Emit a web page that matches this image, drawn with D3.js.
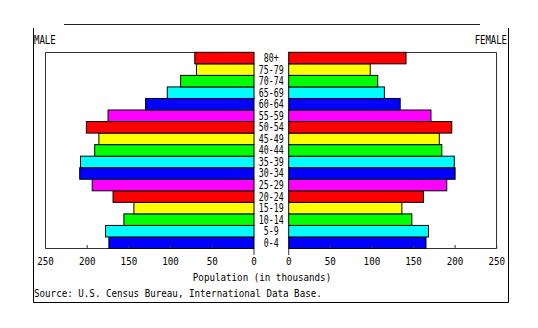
<!DOCTYPE html>
<html><head><meta charset="utf-8">
<script src="https://cdn.jsdelivr.net/npm/d3@7"></script>
<style>body{margin:0;background:#fff}svg{display:block}</style>
</head><body>
<script>
const ages = ["0-4","5-9","10-14","15-19","20-24","25-29","30-34","35-39","40-44","45-49","50-54","55-59","60-64","65-69","70-74","75-79","80+"];
const male = [174,178,156,144,169,194,209,208,191,186,201,175,130,104,88,69,71];
const female = [165,168,148,136,162,190,200,199,184,181,196,171,134,115,107,98,141];
const barColors = ["#0000ff","#00ffff","#00ff00","#ffff00","#ff0000","#ff00ff"];
const ticks = [0,50,100,150,200,250];

const W = 538, H = 328;
const svg = d3.select("body").append("svg").attr("width", W).attr("height", H);
const font = "'DejaVu Sans Mono', 'Liberation Mono', monospace";

function txt(sel, size, sx){
  return sel.attr("font-family",font).attr("font-size",size).attr("fill","#000")
    .attr("transform",function(){return `translate(${this.__x},${this.__y}) scale(${sx},1)`;});
}
function put(x, yy, s, size, sx, anchor){
  svg.append("text").attr("transform",`translate(${x},${yy}) scale(${sx},1)`)
    .attr("text-anchor",anchor||"start").attr("font-family",font).attr("font-size",size).text(s);
}

const xL = d3.scaleLinear().domain([0,250]).range([254,45.5]);
const xR = d3.scaleLinear().domain([0,250]).range([288.7,496.7]);
const y = d3.scaleBand().domain(ages).range([248.5,52.3]).padding(0);

// outer frame
svg.append("line").attr("x1",64).attr("x2",480).attr("y1",24.5).attr("y2",24.5).attr("stroke","#222");
svg.append("path").attr("d","M33.5,28V302.5H508.5V28").attr("fill","none").attr("stroke","#000");

// panel frames
svg.append("path").attr("d",`M254,52.5H45.5V248.5H254`).attr("fill","none").attr("stroke","#333");
svg.append("path").attr("d",`M288.7,52.5H496.5V248.5H288.7`).attr("fill","none").attr("stroke","#333");

// bars
svg.selectAll(".m").data(ages).join("rect")
  .attr("x",(d,i)=>xL(male[i])).attr("width",(d,i)=>xL(0)-xL(male[i]))
  .attr("y",d=>y(d)).attr("height",y.bandwidth())
  .attr("fill",(d,i)=>barColors[i%6]).attr("stroke","#000").attr("stroke-width",1);
svg.selectAll(".f").data(ages).join("rect")
  .attr("x",xR(0)).attr("width",(d,i)=>xR(female[i])-xR(0))
  .attr("y",d=>y(d)).attr("height",y.bandwidth())
  .attr("fill",(d,i)=>barColors[i%6]).attr("stroke","#000").attr("stroke-width",1);

// age labels
svg.selectAll(".a").data(ages).join("text")
  .attr("transform",d=>`translate(271.3,${y(d)+y.bandwidth()/2+4})scale(0.72,1)`)
  .attr("text-anchor","middle").attr("font-family",font).attr("font-size",11.5)
  .text(d=>d);

// ticks
[xL,xR].forEach(sc=>{
  svg.selectAll(null).data(ticks).join("line")
    .attr("x1",d=>sc(d)).attr("x2",d=>sc(d))
    .attr("y1",248.5).attr("y2",d=>d===0?255:245)
    .attr("stroke","#333");
  svg.selectAll(null).data(ticks).join("text")
    .attr("transform",d=>`translate(${sc(d)},265.3)scale(0.86,1)`).attr("text-anchor","middle")
    .attr("font-family",font).attr("font-size",10.7).text(d=>d);
});

put(262, 281.3, "Population (in thousands)", 10.7, 0.86, "middle");
put(34, 297, "Source: U.S. Census Bureau, International Data Base.", 10.7, 0.86);
put(34, 43.5, "MALE", 11.5, 0.78);
put(507, 43.5, "FEMALE", 11.5, 0.78, "end");
</script>
</body></html>
